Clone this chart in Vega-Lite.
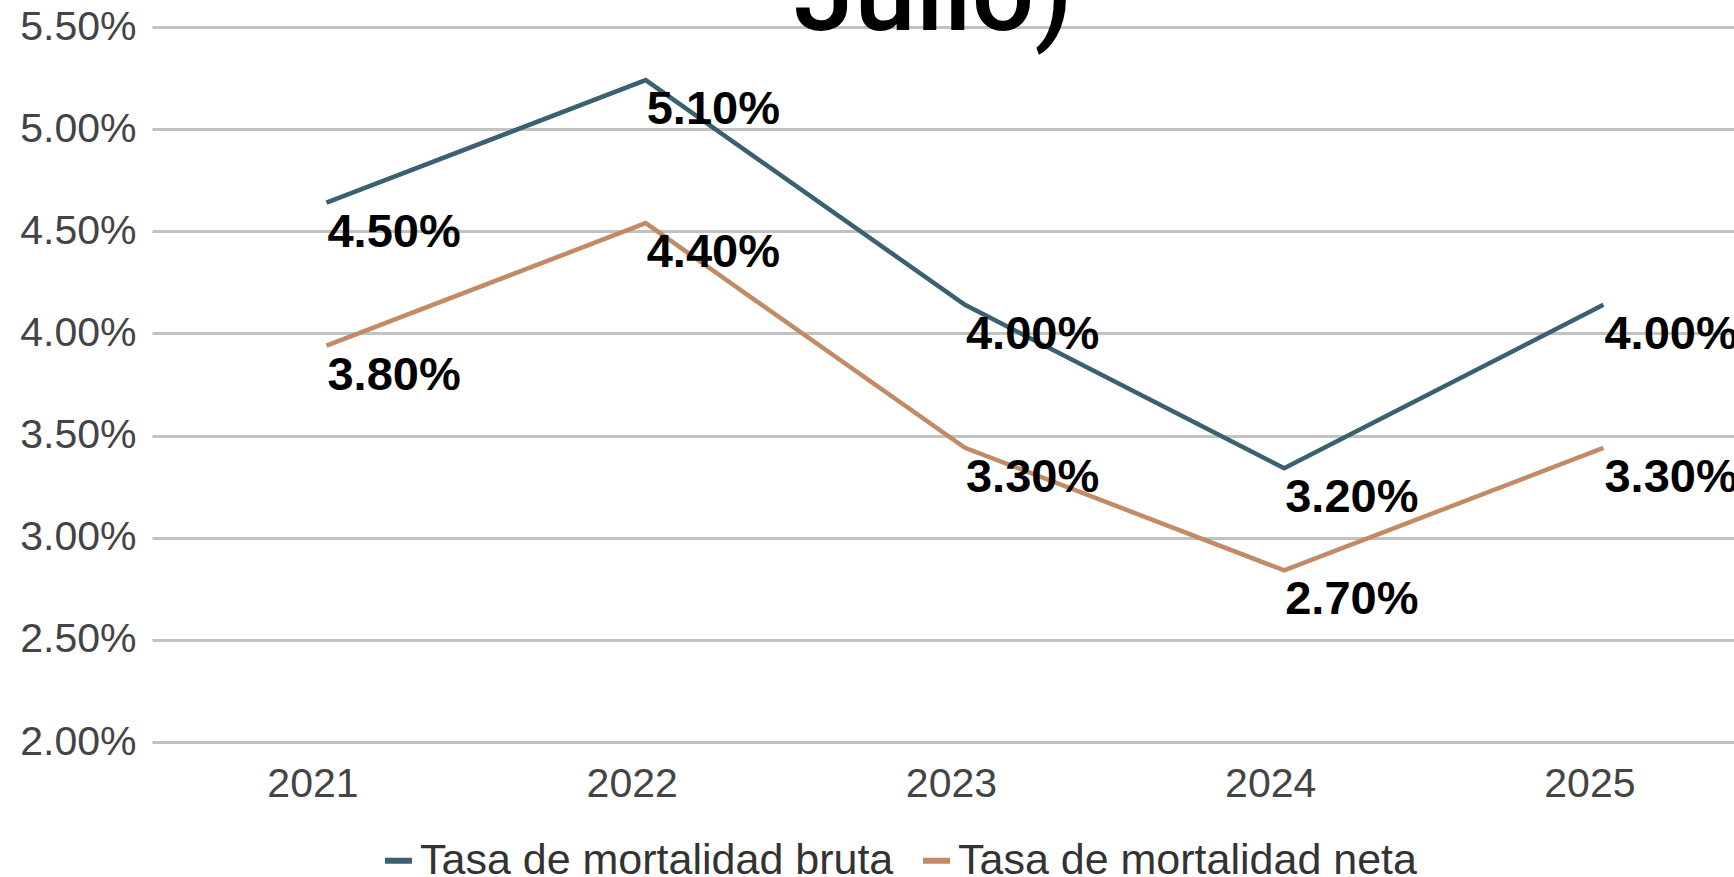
{
  "$schema": "https://vega.github.io/schema/vega-lite/v6.json",
  "autosize": {"type": "none"},
  "padding": {"left": 152, "top": 27, "right": 0, "bottom": 136},
  "width": 1582,
  "height": 715,
  "background": "white",
  "title": {
    "text": "Julio)",
    "font": "Roboto",
    "fontWeight": 500,
    "fontSize": 110,
    "color": "#000000",
    "anchor": "middle",
    "baseline": "alphabetic",
    "offset": 0,
    "dx": -10,
    "dy": 134
  },
  "data": {
    "values": [
      {"anio": 2021, "serie": "Tasa de mortalidad bruta", "tasa": 4.64, "etiqueta": "4.50%"},
      {"anio": 2022, "serie": "Tasa de mortalidad bruta", "tasa": 5.24, "etiqueta": "5.10%"},
      {"anio": 2023, "serie": "Tasa de mortalidad bruta", "tasa": 4.14, "etiqueta": "4.00%"},
      {"anio": 2024, "serie": "Tasa de mortalidad bruta", "tasa": 3.34, "etiqueta": "3.20%"},
      {"anio": 2025, "serie": "Tasa de mortalidad bruta", "tasa": 4.14, "etiqueta": "4.00%"},
      {"anio": 2021, "serie": "Tasa de mortalidad neta", "tasa": 3.94, "etiqueta": "3.80%"},
      {"anio": 2022, "serie": "Tasa de mortalidad neta", "tasa": 4.54, "etiqueta": "4.40%"},
      {"anio": 2023, "serie": "Tasa de mortalidad neta", "tasa": 3.44, "etiqueta": "3.30%"},
      {"anio": 2024, "serie": "Tasa de mortalidad neta", "tasa": 2.84, "etiqueta": "2.70%"},
      {"anio": 2025, "serie": "Tasa de mortalidad neta", "tasa": 3.44, "etiqueta": "3.30%"}
    ]
  },
  "encoding": {
    "x": {
      "field": "anio",
      "type": "quantitative",
      "scale": {"domain": [2020.4535, 2025.409], "nice": false, "zero": false},
      "axis": {
        "title": null,
        "values": [2021, 2022, 2023, 2024, 2025],
        "format": "d",
        "grid": false,
        "domain": false,
        "ticks": false,
        "labelFlush": false,
        "labelOverlap": false,
        "labelPadding": 22,
        "labelOffset": -14,
        "labelFont": "Liberation Sans",
        "labelFontSize": 41,
        "labelColor": "#444444"
      }
    },
    "y": {
      "field": "tasa",
      "type": "quantitative",
      "scale": {"domain": [2, 5.5], "nice": false, "zero": false},
      "axis": {
        "title": null,
        "values": [2, 2.5, 3, 3.5, 4, 4.5, 5, 5.5],
        "labelExpr": "format(datum.value, '.2f') + '%'",
        "grid": true,
        "gridColor": "#c2c2c2",
        "gridWidth": 3,
        "domain": false,
        "ticks": false,
        "labelPadding": 16,
        "labelFont": "Liberation Sans",
        "labelFontSize": 41,
        "labelColor": "#444444"
      }
    }
  },
  "layer": [
    {
      "mark": {"type": "line", "strokeWidth": 4.5},
      "encoding": {
        "color": {
          "field": "serie",
          "type": "nominal",
          "scale": {
            "domain": ["Tasa de mortalidad bruta", "Tasa de mortalidad neta"],
            "range": ["#3b6070", "#c28a65"]
          },
          "legend": {
            "title": null,
            "orient": "none",
            "legendX": 225,
            "legendY": 812,
            "direction": "horizontal",
            "columns": 2,
            "padding": 0,
            "symbolType": "stroke",
            "symbolSize": 729,
            "symbolStrokeWidth": 6,
            "labelFont": "Liberation Sans",
            "labelFontSize": 43,
            "labelColor": "#333333",
            "labelLimit": 0,
            "labelOffset": 0,
            "columnPadding": 17
          }
        }
      }
    },
    {
      "mark": {
        "type": "text",
        "align": "left",
        "baseline": "top",
        "dx": 1,
        "dy": 7,
        "font": "Liberation Sans",
        "fontWeight": "bold",
        "fontSize": 47,
        "color": "#000000"
      },
      "encoding": {
        "text": {"field": "etiqueta"}
      }
    }
  ],
  "config": {
    "view": {"stroke": null}
  }
}
